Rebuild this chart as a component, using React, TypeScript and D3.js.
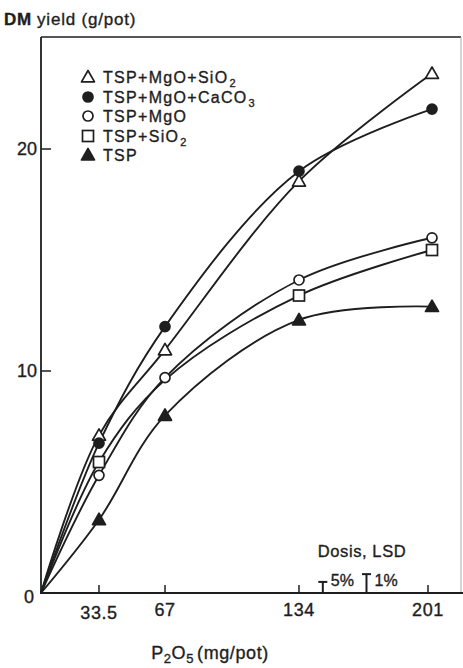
import React from "react";
import * as d3 from "d3";

const xValues = [0, 33.5, 67, 134, 201];
const xTicks = [33.5, 67, 134, 201];
const xTickLabels = ["33.5", "67", "134", "201"];
const yTicks = [0, 10, 20];

const seriesNames = ["TSP+MgO+SiO2", "TSP+MgO+CaCO3", "TSP+MgO", "TSP+SiO2", "TSP"];
const tspMgoSio2 = [0, 7.1, 10.95, 18.55, 23.4];
const tspMgoCaco3 = [0, 6.75, 12.0, 19.0, 21.8];
const tspMgo = [0, 5.3, 9.7, 14.1, 16.0];
const tspSio2 = [0, 5.9, 9.6, 13.4, 15.45];
const tsp = [0, 3.3, 8.0, 12.3, 12.9];

const lsdLabels = ["5%", "1%"];
const lsdX = [146, 168];
const lsdValues = [0.5, 0.85];

const W = 463;
const H = 668;
const FONT = "'Liberation Sans', Arial, Helvetica, sans-serif";
const INK = "#1e1e1e";
const TS = 0.35; // slight text stroke to mimic heavier print

type MarkerKind = "triOpen" | "dotFilled" | "dotOpen" | "square" | "triFilled";
const markerKinds: MarkerKind[] = ["triOpen", "dotFilled", "dotOpen", "square", "triFilled"];
const seriesValues = [tspMgoSio2, tspMgoCaco3, tspMgo, tspSio2, tsp];

function Marker({ kind, x, y }: { kind: MarkerKind; x: number; y: number }) {
  const sw = 1.7;
  if (kind === "triOpen" || kind === "triFilled") {
    const s = 6.5;
    const p = `M${x},${y - s} L${x + s},${y + s * 0.75} L${x - s},${y + s * 0.75} Z`;
    return <path d={p} fill={kind === "triFilled" ? INK : "#fff"} stroke={INK} strokeWidth={sw} strokeLinejoin="round" />;
  }
  if (kind === "dotFilled" || kind === "dotOpen") {
    return <circle cx={x} cy={y} r={5} fill={kind === "dotFilled" ? INK : "#fff"} stroke={INK} strokeWidth={sw} />;
  }
  return <rect x={x - 5.5} y={y - 5.5} width={11} height={11} fill="#fff" stroke={INK} strokeWidth={sw} />;
}

function LegendLabel({ name, x, y }: { name: string; x: number; y: number }) {
  const m = name.match(/^(.*?)(\d)$/);
  const base = m ? m[1] : name;
  const sub = m ? m[2] : null;
  return (
    <text x={x} y={y} fontFamily={FONT} fontSize={16} letterSpacing={1.3} fill={INK} stroke={INK} strokeWidth={TS}>
      {base}
      {sub && (
        <tspan dy={4} dx={1} fontSize={11}>
          {sub}
        </tspan>
      )}
    </text>
  );
}

export default function App() {
  const x = d3.scaleLinear().domain([0, 33.5, 67, 134, 201]).range([41, 99, 165, 299, 432]);
  const y = d3.scaleLinear().domain([0, 25]).range([593, 38]);
  const line = d3
    .line<number>()
    .x((_, i) => x(xValues[i]))
    .y((d) => y(d))
    .curve(d3.curveCatmullRom.alpha(0.5));

  const legendY = [77, 97, 116, 136, 155];

  return (
    <svg width={W} height={H} style={{ position: "absolute", left: 0, top: 0, background: "#fff" }}>
      <rect x={0} y={0} width={W} height={H} fill="#fff" />
      {/* frame */}
      <line x1={41} y1={37} x2={461} y2={37} stroke={INK} strokeWidth={1.6} />
      <line x1={461} y1={37} x2={461} y2={593} stroke="#aaa" strokeWidth={1} />
      <line x1={41} y1={37} x2={41} y2={594} stroke={INK} strokeWidth={1.8} />
      <line x1={40} y1={593} x2={463} y2={593} stroke={INK} strokeWidth={2} />

      {/* y ticks */}
      {yTicks.map((t) => (
        <g key={t}>
          {t > 0 && <line x1={41} x2={51} y1={y(t)} y2={y(t)} stroke={INK} strokeWidth={1.5} />}
          <text x={t === 0 ? 34 : 37} y={y(t) + 6 + (t === 0 ? 4 : 0)} textAnchor="end" fontFamily={FONT} fontSize={18} fill={INK} stroke={INK} strokeWidth={TS}>
            {t}
          </text>
        </g>
      ))}

      {/* x ticks */}
      {xTicks.map((t, i) => (
        <g key={t}>
          <line x1={x(t) - (i === 3 ? 4 : 0)} x2={x(t) - (i === 3 ? 4 : 0)} y1={593} y2={585} stroke={INK} strokeWidth={1.5} />
          <text x={x(t) - (i === 3 ? 4 : 0)} y={i === 0 ? 619 : 616} textAnchor="middle" fontFamily={FONT} fontSize={18} letterSpacing={0.6} fill={INK} stroke={INK} strokeWidth={TS}>
            {xTickLabels[i]}
          </text>
        </g>
      ))}

      {/* axis titles */}
      <text x={4} y={25} fontFamily={FONT} fontSize={17} letterSpacing={0.8} fill={INK} stroke={INK} strokeWidth={TS}>
        <tspan fontWeight="bold">DM</tspan>
        <tspan dx={5}>yield (g/pot)</tspan>
      </text>
      <text x={210} y={659} textAnchor="middle" fontFamily={FONT} fontSize={18} letterSpacing={0.6} fill={INK} stroke={INK} strokeWidth={TS}>
        P<tspan dy={4} fontSize={13}>2</tspan>
        <tspan dy={-4}>O</tspan>
        <tspan dy={4} fontSize={13}>5</tspan>
        <tspan dy={-4} dx={3}>(mg/pot)</tspan>
      </text>

      {/* series lines */}
      {seriesValues.map((vals, si) => (
        <path key={si} d={line(vals) || ""} fill="none" stroke={INK} strokeWidth={1.9} />
      ))}

      {/* markers */}
      {seriesValues.map((vals, si) =>
        vals.map((v, i) =>
          i === 0 || (markerKinds[si] === "square" && i === 2) ? null : (
            <Marker key={`${si}-${i}`} kind={markerKinds[si]} x={x(xValues[i])} y={y(v)} />
          )
        )
      )}

      {/* legend */}
      {seriesNames.map((n, i) => (
        <g key={n}>
          <Marker kind={markerKinds[i]} x={88} y={legendY[i]} />
          <LegendLabel name={n} x={103} y={legendY[i] + 6} />
        </g>
      ))}

      {/* LSD */}
      <text x={362} y={557} textAnchor="middle" fontFamily={FONT} fontSize={16.5} letterSpacing={0.6} fill={INK} stroke={INK} strokeWidth={TS}>
        Dosis, LSD
      </text>
      {lsdLabels.map((lab, i) => {
        const cx = x(lsdX[i]);
        const top = y(lsdValues[i]);
        return (
          <g key={lab}>
            <line x1={cx} x2={cx} y1={593} y2={top} stroke={INK} strokeWidth={2} />
            <line x1={cx - 4.5} x2={cx + 4.5} y1={top} y2={top} stroke={INK} strokeWidth={2} />
            <text x={cx + 8} y={586} fontFamily={FONT} fontSize={16} fill={INK} stroke={INK} strokeWidth={TS}>
              {lab}
            </text>
          </g>
        );
      })}
    </svg>
  );
}
